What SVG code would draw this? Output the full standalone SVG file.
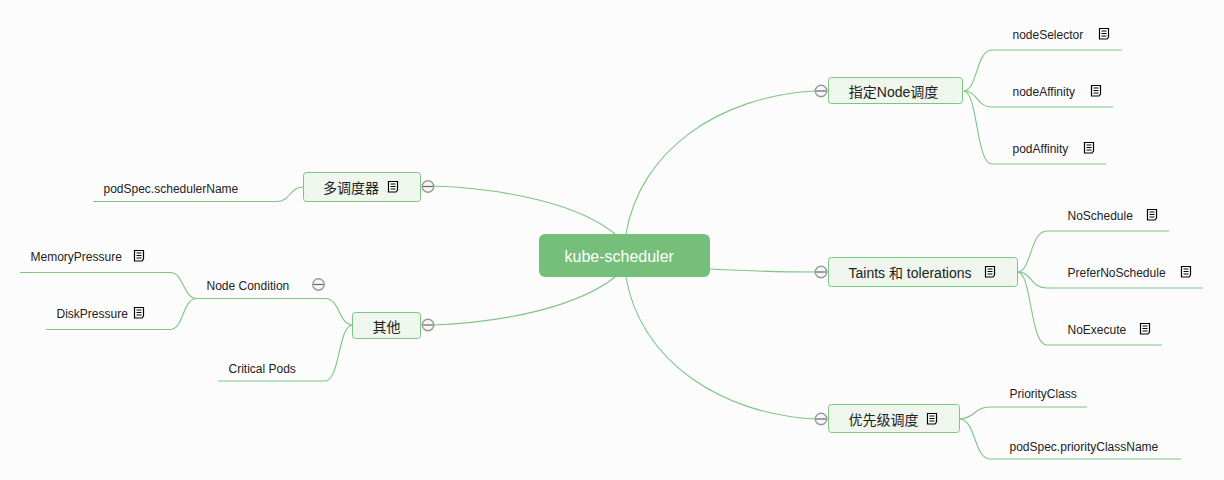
<svg xmlns="http://www.w3.org/2000/svg" width="1224" height="480" viewBox="0 0 1224 480">
<style>
text{font-family:"Liberation Sans","Noto Sans CJK SC",sans-serif;fill:#222}
.c{fill:none;stroke:#7cc583;stroke-width:1.1}
.n{fill:#eff6ee;stroke:#7cc583;stroke-width:1}
.t{font-size:14px;text-anchor:middle}
.l{font-size:12px}
.m{fill:#f6f6f6;stroke:#999;stroke-width:1.4}
.d{stroke:#666;stroke-width:1.2}
</style>
<defs>
<g id="note"><path d="M-4.500 -5H4.500V3.500L3 5.500H-4.500Z" fill="#fff" stroke="#000" stroke-width="1.2"/><path d="M-2.500 -2.500H2.500M-2.500 0H2.500M-2.500 2.500H2.500" stroke="#000" stroke-width="1"/></g>
<g id="minus"><circle r="5.800" class="m"/><path d="M-5 0H5" class="d"/></g>
</defs>
<rect width="1224" height="480" fill="#fcfcfc"/>
<g id="connectors">
<path class="c" d="M626 234C640 150 720 96 815 91"/>
<path class="c" d="M710 269C750 271 785 272 815 272"/>
<path class="c" d="M626 277C640 360 720 414 815 419"/>
<path class="c" d="M615 234C580 205 510 189 434 186"/>
<path class="c" d="M615 277C580 305 510 322 434 325"/>
<path class="c" d="M964 91C978 89 976 50 992 50H1122"/>
<path class="c" d="M964 91C978 91 976 107 992 107H1113"/>
<path class="c" d="M964 91C978 93 976 164 992 164H1106"/>
<path class="c" d="M1018 272C1032 270 1030 231 1047 231H1169"/>
<path class="c" d="M1018 272C1032 272 1030 288 1047 288H1203"/>
<path class="c" d="M1018 272C1032 274 1030 345 1047 345H1162"/>
<path class="c" d="M960 419C976 418 974 407 990 407H1087"/>
<path class="c" d="M960 419C976 420 974 459 990 459H1181"/>
<path class="c" d="M303 187C290 187 290 201.500 277 201.500H93"/>
<path class="c" d="M352 325C338 323 340 298.500 325 298.500H196"/>
<path class="c" d="M352 325C338 327 340 381 325 381H218"/>
<path class="c" d="M196 298.500C182 296 184 272.500 170 272.500H20"/>
<path class="c" d="M196 298.500C182 300 184 329.500 170 329.500H46"/>
</g>
<g id="root"><rect x="539" y="234" width="171" height="43" rx="6" fill="#75bf7b"/><text x="564.500" y="262" font-size="16" style="fill:#fff">kube-scheduler</text></g>
<g id="n1"><rect class="n" x="828.500" y="77.500" width="134" height="26" rx="3"/><text class="t" x="893.500" y="97">指定Node调度</text><use href="#minus" x="821" y="91"/></g>
<g id="n2"><rect class="n" x="828.500" y="257.500" width="189" height="29" rx="3"/><text class="t" x="910" y="278">Taints 和 tolerations</text><use href="#note" x="990" y="271.500"/><use href="#minus" x="821" y="272"/></g>
<g id="n3"><rect class="n" x="828.500" y="404.500" width="131" height="28" rx="3"/><text class="t" x="883.500" y="425">优先级调度</text><use href="#note" x="932" y="418.500"/><use href="#minus" x="821" y="419"/></g>
<g id="n4"><rect class="n" x="303.500" y="172.500" width="117" height="29" rx="3"/><text class="t" x="351" y="193">多调度器</text><use href="#note" x="393" y="186.500"/><use href="#minus" x="428" y="186.500"/></g>
<g id="n5"><rect class="n" x="352.500" y="312.500" width="68" height="26" rx="3"/><text class="t" x="386.500" y="332">其他</text><use href="#minus" x="428" y="325"/></g>
<g id="l1"><text class="l" x="1012.500" y="39">nodeSelector</text><use href="#note" x="1104" y="33.500"/></g>
<g id="l2"><text class="l" x="1012.500" y="96">nodeAffinity</text><use href="#note" x="1096" y="90.500"/></g>
<g id="l3"><text class="l" x="1012.500" y="153">podAffinity</text><use href="#note" x="1089" y="147.500"/></g>
<g id="l4"><text class="l" x="1067.500" y="220">NoSchedule</text><use href="#note" x="1152" y="214.500"/></g>
<g id="l5"><text class="l" x="1067.500" y="277">PreferNoSchedule</text><use href="#note" x="1186" y="271.500"/></g>
<g id="l6"><text class="l" x="1067.500" y="334">NoExecute</text><use href="#note" x="1145" y="328.500"/></g>
<g id="l7"><text class="l" x="1009.500" y="398">PriorityClass</text></g>
<g id="l8"><text class="l" x="1009.500" y="451">podSpec.priorityClassName</text></g>
<g id="l9"><text class="l" x="103.500" y="193">podSpec.schedulerName</text></g>
<g id="l10"><text class="l" x="206.500" y="290">Node Condition</text><use href="#minus" x="318.500" y="284.500"/></g>
<g id="l11"><text class="l" x="30.500" y="261">MemoryPressure</text><use href="#note" x="139" y="255.500"/></g>
<g id="l12"><text class="l" x="56.500" y="318">DiskPressure</text><use href="#note" x="139" y="312.500"/></g>
<g id="l13"><text class="l" x="228.500" y="373">Critical Pods</text></g>
</svg>
